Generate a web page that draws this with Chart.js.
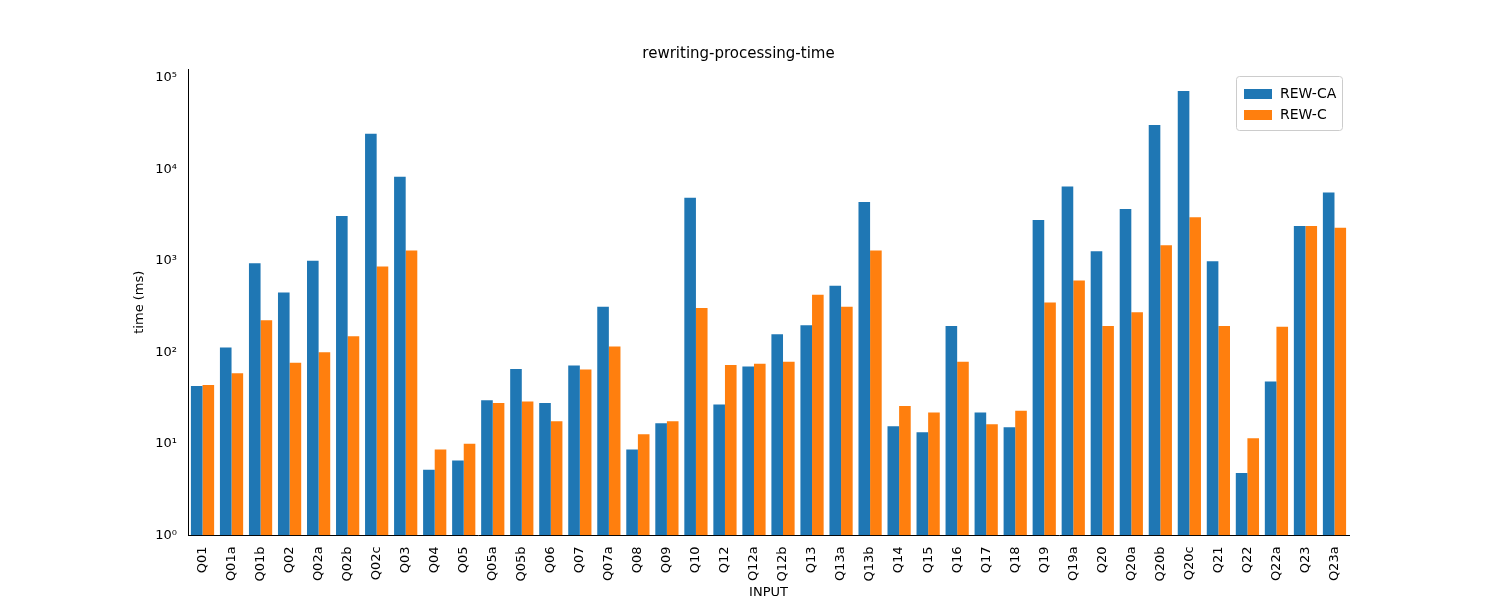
<!DOCTYPE html>
<html lang="en">
<head>
    <meta charset="UTF-8">
    <title>rewriting-processing-time</title>
    <script src="https://cdn.jsdelivr.net/npm/chart.js"></script>
    <style>
        body { margin: 0; background: #fff; }
        #wrap { width: 1500px; height: 600px; }
    </style>
</head>
<body>
    <div id="wrap"><canvas id="chart"></canvas></div>
    <script>
        const queries = ['Q01','Q01a','Q01b','Q02','Q02a','Q02b','Q02c','Q03','Q04','Q05','Q05a','Q05b','Q06','Q07','Q07a','Q08','Q09','Q10','Q12','Q12a','Q12b','Q13','Q13a','Q13b','Q14','Q15','Q16','Q17','Q18','Q19','Q19a','Q20','Q20a','Q20b','Q20c','Q21','Q22','Q22a','Q23','Q23a'];
        const rewCA = [43,113,940,450,1000,3100,24500,8300,5.2,6.6,30,66,28,72,315,8.7,16.8,4900,27,70,158,198,535,4400,15.6,13.4,194,22,15.2,2800,6500,1270,3700,30500,72000,990,4.8,48,2400,5600];
        const rewC = [44,59,225,77,100,150,870,1300,8.7,10,28,29,17.7,65,116,12.7,17.7,305,73,75,79,425,315,1300,26,22,79,16.4,23,350,610,194,275,1480,3000,194,11.5,190,2400,2300];
        const sup = {'0':'⁰','1':'¹','2':'²','3':'³','4':'⁴','5':'⁵'};

        // legend drawn inside the plot, top right
        const innerLegend = {
            id: 'innerLegend',
            afterDraw(chart) {
                const ctx = chart.ctx, a = chart.chartArea;
                const items = chart.data.datasets;
                const w = 106, h = 54, x = a.right - w - 7, y = a.top + 7;
                ctx.save();
                ctx.fillStyle = 'rgba(255,255,255,0.8)';
                ctx.strokeStyle = '#cccccc';
                ctx.lineWidth = 1;
                ctx.beginPath();
                ctx.roundRect(x + 0.5, y + 0.5, w, h, 3);
                ctx.fill(); ctx.stroke();
                ctx.font = '14px "DejaVu Sans"';
                ctx.textBaseline = 'middle';
                items.forEach((d, i) => {
                    const yy = y + 18 + i * 21;
                    ctx.fillStyle = d.backgroundColor;
                    ctx.fillRect(x + 8, yy - 5, 28, 10);
                    ctx.fillStyle = '#000';
                    ctx.fillText(d.label, x + 44, yy);
                });
                ctx.restore();
            }
        };

        new Chart(document.getElementById('chart'), {
            type: 'bar',
            data: {
                labels: queries,
                datasets: [
                    { label: 'REW-CA', data: rewCA, backgroundColor: '#1f77b4' },
                    { label: 'REW-C', data: rewC, backgroundColor: '#ff7f0e' }
                ]
            },
            options: {
                responsive: true,
                maintainAspectRatio: false,
                animation: false,
                datasets: { bar: { categoryPercentage: 0.8, barPercentage: 1.0 } },
                layout: { padding: { left: 128, right: 151, top: 45, bottom: 0 } },
                scales: {
                    x: {
                        grid: { display: false },
                        border: { color: '#000' },
                        ticks: { color: '#000', maxRotation: 90, minRotation: 90, autoSkip: false, font: { family: 'DejaVu Sans', size: 13 } },
                        title: { display: true, text: 'INPUT', color: '#000', padding: 0, font: { family: 'DejaVu Sans', size: 13 } }
                    },
                    y: {
                        type: 'logarithmic',
                        min: 1,
                        max: 125000,
                        grid: { display: false },
                        border: { color: '#000' },
                        afterFit(s) { s.width = 60; },
                        afterBuildTicks(s) { s.ticks = [1,10,100,1000,10000,100000].map(v => ({ value: v })); },
                        ticks: {
                            color: '#000',
                            font: { family: 'DejaVu Sans', size: 13 },
                            callback: v => '10' + sup[String(Math.round(Math.log10(v)))]
                        },
                        title: { display: true, text: 'time (ms)', color: '#000', font: { family: 'DejaVu Sans', size: 13 } }
                    }
                },
                plugins: {
                    legend: { display: false },
                    tooltip: { enabled: false },
                    title: { display: true, text: 'rewriting-processing-time', color: '#000', font: { family: 'DejaVu Sans', size: 15, weight: 'normal' }, padding: { top: 0, bottom: 6 } }
                }
            },
            plugins: [innerLegend]
        });
    </script>
</body>
</html>
